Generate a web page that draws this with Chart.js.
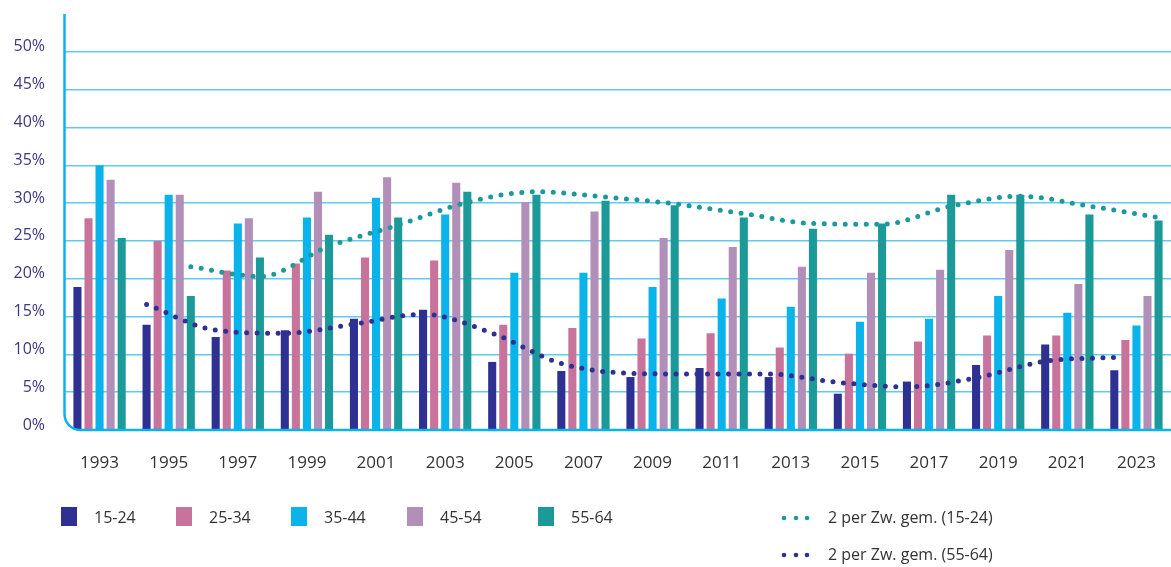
<!DOCTYPE html>
<html>
<head>
<meta charset="utf-8">
<script src="https://cdn.jsdelivr.net/npm/chart.js@4/dist/chart.umd.min.js"></script>
<style>
  html, body { margin: 0; padding: 0; background: #ffffff; }
  #wrap { width: 1171px; height: 567px; position: relative; }
</style>
</head>
<body>
<div id="wrap"><canvas id="chart" width="1171" height="567"></canvas></div>
<script>
// Jahre (categories)
const years = ['1993', '1995', '1997', '1999', '2001', '2003', '2005', '2007',
  '2009', '2011', '2013', '2015', '2017', '2019', '2021', '2023']

// Balkenwerte in %
const age1524 = [18.9, 13.9, 12.3, 13.2, 14.7, 15.9, 9.0, 7.8, 7.0, 8.2, 7.0, 4.8, 6.4, 8.6, 11.3, 7.9]
const age2534 = [28.0, 25.0, 21.1, 22.0, 22.8, 22.4, 13.9, 13.5, 12.1, 12.8, 10.9, 10.1, 11.7, 12.5, 12.5, 11.9]
const age3544 = [35.0, 31.1, 27.3, 28.1, 30.7, 28.5, 20.8, 20.8, 18.9, 17.4, 16.3, 14.3, 14.7, 17.7, 15.5, 13.8]
const age4554 = [33.1, 31.1, 28.0, 31.5, 33.4, 32.7, 30.1, 28.9, 25.4, 24.2, 21.6, 20.8, 21.2, 23.8, 19.3, 17.7]
const age5564 = [25.4, 17.7, 22.8, 25.8, 28.1, 31.5, 31.1, 30.3, 29.7, 28.1, 26.6, 27.3, 31.1, 31.1, 28.5, 27.7]

// gleitende Durchschnitte (erste Kategorie ohne Wert)
const trendTeal = [null, 21.6, 20.3, 24.3, 27.1, 30.1, 31.5, 30.8, 29.9, 28.6, 27.3, 27.2, 29.6, 30.9, 29.6, 28.1]
const trendNavy = [null, 16.6, 13.2, 12.8, 14.0, 15.3, 12.8, 8.8, 7.5, 7.4, 7.4, 6.3, 5.7, 6.9, 9.1, 9.6]

const yTicks = [0, 5, 10, 15, 20, 25, 30, 35, 40, 45, 50]

const colors = {
  navy: '#2e3192',
  pink: '#c8739c',
  cyan: '#0ab4ea',
  lilac: '#b18fb8',
  teal: '#1c9a9a',
  axis: '#0ab4ea',
  grid: '#62caef',
  tick: '#3d3783',
  text: '#333333',
}

const CAT_PCT = 0.8
const BAR_PCT = 0.73
const slot = CAT_PCT / 5

// one linear x axis for bars and lines, index i = one year group
const toPoints = (values, offset) => values
  .map((v, i) => (v === null ? null : { x: i + offset, y: v }))
  .filter((p) => p !== null)

// Trendlinien sitzen auf den Balken ihrer Reihe
const trendPoints = (values, slotIndex) => toPoints(values, (slotIndex - 2) * slot)

const FONT = '"Open Sans", "Noto Sans", sans-serif'

const frame = {
  id: 'frame',
  afterDatasetsDraw(chart) {
    const { ctx, chartArea } = chart
    const x0 = chartArea.left - 0.5
    const yb = chartArea.bottom
    const r = 16
    ctx.save()
    ctx.strokeStyle = colors.axis
    ctx.lineWidth = 2.5
    ctx.beginPath()
    ctx.moveTo(x0, chartArea.top)
    ctx.lineTo(x0, yb - r)
    ctx.arcTo(x0, yb, x0 + r, yb, r)
    ctx.lineTo(chart.width, yb)
    ctx.stroke()
    ctx.restore()
  },
  afterDraw(chart) {
    const { ctx } = chart
    const ds = chart.data.datasets
    ctx.save()
    ctx.font = '16px ' + FONT
    ctx.textBaseline = 'middle'
    ctx.textAlign = 'left'
    const squareX = [61, 176, 291, 407, 538]
    ds.filter((d) => d.type === 'bar').forEach((d, i) => {
      ctx.fillStyle = d.backgroundColor
      ctx.fillRect(squareX[i], 507, 16, 19)
      ctx.fillStyle = colors.text
      ctx.fillText(d.label, squareX[i] + 33, 518)
    })
    ds.filter((d) => d.type === 'line').forEach((d, i) => {
      const y = 518 + i * 37
      ctx.fillStyle = d.borderColor
      ;[784, 796, 807].forEach((x) => {
        ctx.beginPath()
        ctx.arc(x, y, 2.3, 0, Math.PI * 2)
        ctx.fill()
      })
      ctx.fillStyle = colors.text
      ctx.fillText(d.label, 828, y)
    })
    ctx.restore()
  },
}

const bar = (label, data, color) => ({
  type: 'bar',
  label,
  data: toPoints(data, 0),
  backgroundColor: color,
  borderWidth: 0,
  categoryPercentage: CAT_PCT,
  barPercentage: BAR_PCT,
  order: 2,
})

const trend = (label, data, color) => ({
  type: 'line',
  label,
  data,
  borderColor: color,
  backgroundColor: color,
  borderWidth: 5,
  borderDash: [0, 10.5],
  borderCapStyle: 'round',
  pointRadius: 0,
  cubicInterpolationMode: 'monotone',
  fill: false,
  order: 1,
})

new Chart(document.getElementById('chart').getContext('2d'), {
  data: {
    datasets: [
      bar('15-24', age1524, colors.navy),
      bar('25-34', age2534, colors.pink),
      bar('35-44', age3544, colors.cyan),
      bar('45-54', age4554, colors.lilac),
      bar('55-64', age5564, colors.teal),
      trend('2 per Zw. gem. (15-24)', trendPoints(trendTeal, 4), colors.teal),
      trend('2 per Zw. gem. (55-64)', trendPoints(trendNavy, 0), colors.navy),
    ],
  },
  options: {
    responsive: false,
    animation: false,
    layout: { padding: { top: 14, left: 0, right: 0, bottom: 0 } },
    plugins: { legend: { display: false }, tooltip: { enabled: false } },
    scales: {
      x: {
        type: 'linear',
        offset: false,
        min: -0.5,
        max: years.length - 0.5,
        afterBuildTicks: (s) => {
          s.ticks = years.map((_, i) => ({ value: i }))
        },
        grid: { display: false, drawTicks: false, offset: false },
        border: { display: false },
        ticks: {
          color: colors.text,
          font: { size: 17, family: FONT },
          padding: 23,
          maxRotation: 0,
          autoSkip: false,
          callback: (v) => years[v],
        },
        afterFit: (s) => {
          s.height = 137
          s.paddingLeft = 0
          s.paddingRight = 0
        },
      },
      y: {
        min: 0,
        max: 55,
        afterBuildTicks: (s) => {
          s.ticks = yTicks.concat([55]).map((v) => ({ value: v }))
        },
        grid: {
          drawTicks: false,
          lineWidth: 1.5,
          color: (c) => (c.tick && (c.tick.value === 55 || c.tick.value === 0) ? 'rgba(0,0,0,0)' : colors.grid),
        },
        border: { display: false },
        ticks: {
          color: colors.tick,
          font: { size: 16, family: FONT },
          padding: 20,
          labelOffset: -5,
          callback: (v) => (yTicks.includes(v) ? v + '%' : ''),
        },
        afterFit: (s) => {
          s.width = 65
          s.paddingTop = 0
          s.paddingBottom = 0
        },
      },
    },
  },
  plugins: [frame],
})
</script>
</body>
</html>
